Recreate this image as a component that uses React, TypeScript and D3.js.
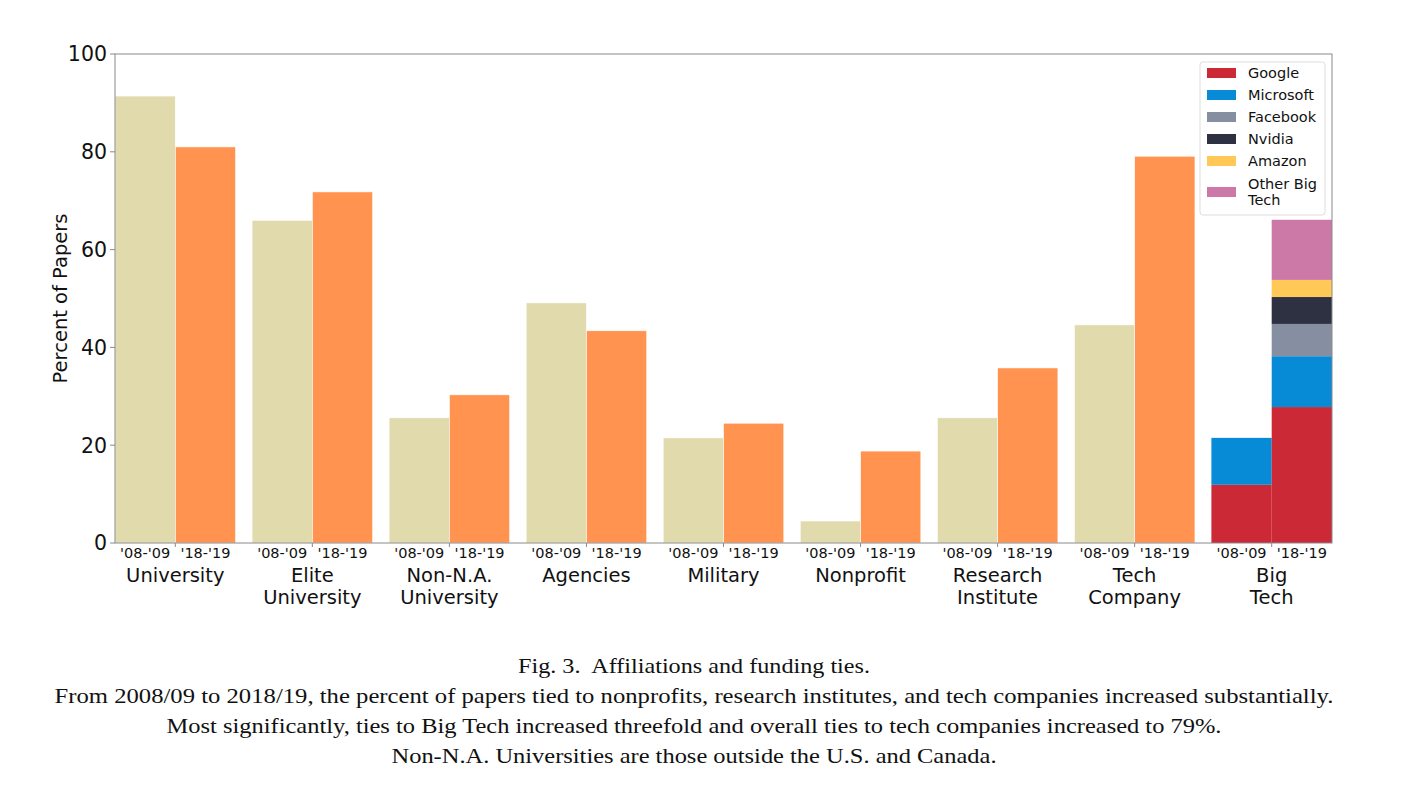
import React from "react";
import * as d3 from "d3";

const categories = [
  ["University"],
  ["Elite", "University"],
  ["Non-N.A.", "University"],
  ["Agencies"],
  ["Military"],
  ["Nonprofit"],
  ["Research", "Institute"],
  ["Tech", "Company"],
  ["Big", "Tech"],
];
const periods = ["'08-'09", "'18-'19"];
const values0809 = [91.4, 66.0, 25.6, 49.1, 21.5, 4.5, 25.6, 44.6];
const values1819 = [81.0, 71.8, 30.3, 43.4, 24.5, 18.8, 35.8, 79.1];
const bigTechCompanies = ["Google", "Microsoft", "Facebook", "Nvidia", "Amazon", "Other Big Tech"];
const bigTech0809 = [11.9, 9.6, 0, 0, 0, 0];
const bigTech1819 = [27.8, 10.4, 6.6, 5.5, 3.5, 12.3];
const yTicks = [0, 20, 40, 60, 80, 100];
const captionLines = [
  "Fig. 3.  Affiliations and funding ties.",
  "From 2008/09 to 2018/19, the percent of papers tied to nonprofits, research institutes, and tech companies increased substantially.",
  "Most significantly, ties to Big Tech increased threefold and overall ties to tech companies increased to 79%.",
  "Non-N.A. Universities are those outside the U.S. and Canada.",
];

const colors0809 = "#e0daad";
const colors1819 = "#ff934f";
const companyColors = ["#cc2936", "#078bd6", "#868fa1", "#2d3142", "#ffc857", "#cc79a7"];
const captionWidths = [352, 1279, 1055, 605];

export default function App() {
  const W = 1402, H = 802;
  const left = 115, right = 1332, top = 54, bottom = 543;
  const x = d3.scaleBand<number>().domain(d3.range(categories.length)).range([left, right]).paddingInner(0.12).paddingOuter(0);
  const y = d3.scaleLinear().domain([0, 100]).range([bottom, top]);
  const sub = d3.scaleBand<number>().domain([0, 1]).range([0, x.bandwidth()]);
  const font = "'DejaVu Sans', sans-serif";

  const bars: React.ReactNode[] = [];
  categories.forEach((_, i) => {
    const gx = x(i)!;
    if (i < values0809.length) {
      [values0809[i], values1819[i]].forEach((v, j) => {
        bars.push(
          <rect key={`b${i}-${j}`} x={gx + sub(j)!} y={y(v)} width={sub.bandwidth()} height={y(0) - y(v)}
            fill={j === 0 ? colors0809 : colors1819} stroke="#fff" strokeWidth={0.6} />
        );
      });
    } else {
      [bigTech0809, bigTech1819].forEach((arr, j) => {
        let acc = 0;
        arr.forEach((v, k) => {
          if (v <= 0) return;
          const y0 = y(acc), y1 = y(acc + v);
          bars.push(
            <rect key={`s${j}-${k}`} x={gx + sub(j)!} y={y1} width={sub.bandwidth()} height={y0 - y1} fill={companyColors[k]} />
          );
          acc += v;
        });
      });
    }
  });

  const legendItems = bigTechCompanies.map((c, k) => ({ c, k }));

  return (
    <svg width={W} height={H} style={{ position: "absolute", left: 0, top: 0, background: "#fff" }}>
      <rect x={0} y={0} width={W} height={H} fill="#fff" />
      {bars}
      <rect x={left} y={top} width={right - left} height={bottom - top} fill="none" stroke="#8a8a8a" strokeWidth={1} />
      {yTicks.map((t) => (
        <g key={t}>
          <line x1={left - 5} x2={left} y1={y(t)} y2={y(t)} stroke="#8a8a8a" />
          <text x={left - 8} y={y(t)} dy="0.36em" textAnchor="end" fontFamily={font} fontSize={20.5} fill="#111">{t}</text>
        </g>
      ))}
      <text transform={`translate(67,${(top + bottom) / 2}) rotate(-90)`} textAnchor="middle" fontFamily={font} fontSize={19.5} fill="#111">Percent of Papers</text>
      {categories.map((lines, i) => {
        const gx = x(i)!;
        const cx = gx + x.bandwidth() / 2;
        return (
          <g key={`x${i}`}>
            <line x1={cx} x2={cx} y1={bottom} y2={bottom + 4} stroke="#8a8a8a" />
            {periods.map((p, j) => (
              <text key={p} x={gx + sub(j)! + sub.bandwidth() / 2} y={558} textAnchor="middle" fontFamily={font} fontSize={14.5} fill="#111">{p}</text>
            ))}
            {lines.map((l, li) => (
              <text key={l} x={cx} y={582 + li * 22} textAnchor="middle" fontFamily={font} fontSize={19.5} fill="#111">{l}</text>
            ))}
          </g>
        );
      })}
      <rect x={1200} y={62} width={125} height={153} rx={3} fill="#fff" stroke="#ddd" />
      {legendItems.map(({ c, k }) => {
        const cy = k < 5 ? 73 + k * 22 : 192;
        const words = c === "Other Big Tech" ? ["Other Big", "Tech"] : [c];
        return (
          <g key={c}>
            <rect x={1207} y={cy - 5} width={29} height={10} fill={companyColors[k]} />
            {words.map((w, wi) => (
              <text key={w} x={1248} y={cy + (words.length === 2 ? (wi === 0 ? -8 : 8) : 0)} dy="0.36em" fontFamily={font} fontSize={14.5} fill="#111">{w}</text>
            ))}
          </g>
        );
      })}
      {captionLines.map((l, i) => (
        <text key={i} x={694} y={673 + i * 30} textAnchor="middle" fontFamily="'Liberation Serif', serif" fontSize={22}
          textLength={captionWidths[i]} lengthAdjust="spacingAndGlyphs" style={{ whiteSpace: "pre" }} fill="#111">{l}</text>
      ))}
    </svg>
  );
}
